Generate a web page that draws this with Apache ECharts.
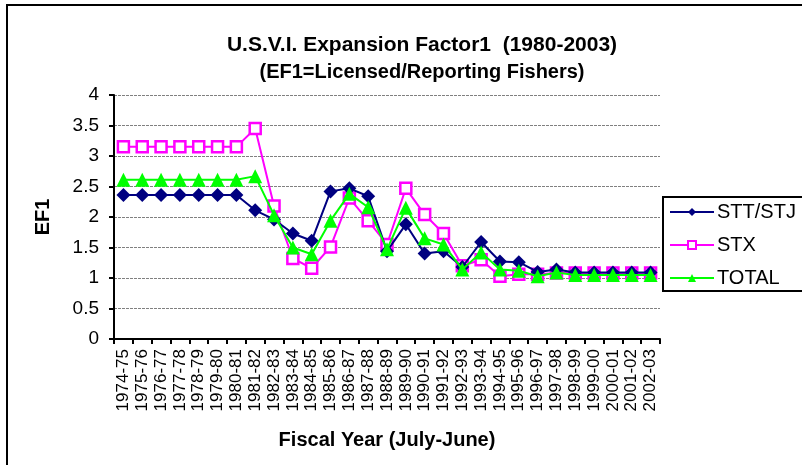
<!DOCTYPE html>
<html><head><meta charset="utf-8">
<script src="https://cdn.jsdelivr.net/npm/echarts@6/dist/echarts.min.js"></script>
<style>html,body{margin:0;padding:0;background:#fff}#c{width:802px;height:465px}</style>
</head><body><div id="c"></div>
<script>
var categories = ['1974-75','1975-76','1976-77','1977-78','1978-79','1979-80','1980-81','1981-82','1982-83','1983-84','1984-85','1985-86','1986-87','1987-88','1988-89','1989-90','1990-91','1991-92','1992-93','1993-94','1994-95','1995-96','1996-97','1997-98','1998-99','1999-00','2000-01','2001-02','2002-03'];
var sttStj = [2.36,2.36,2.36,2.36,2.36,2.36,2.36,2.11,1.96,1.73,1.61,2.42,2.47,2.34,1.44,1.88,1.40,1.44,1.18,1.59,1.27,1.26,1.10,1.14,1.09,1.09,1.09,1.09,1.09];
var stx = [3.15,3.15,3.15,3.15,3.15,3.15,3.15,3.45,2.18,1.32,1.16,1.51,2.31,1.94,1.55,2.47,2.04,1.73,1.20,1.30,1.03,1.06,1.06,1.08,1.08,1.08,1.08,1.08,1.08];
var total = [2.61,2.61,2.61,2.61,2.61,2.61,2.61,2.67,2.03,1.50,1.39,1.94,2.38,2.16,1.47,2.15,1.65,1.55,1.14,1.42,1.14,1.12,1.03,1.09,1.05,1.05,1.05,1.05,1.05];

var F = 'Liberation Sans, Arial, sans-serif';
var chart = echarts.init(document.getElementById('c'), null, {renderer:'canvas'});
chart.setOption({
  animation:false,
  backgroundColor:'#fff',
  graphic:[{type:'rect', shape:{x:7,y:5,width:820,height:480}, style:{fill:'none', stroke:'#000', lineWidth:2}, silent:true, z:-1}],
  title:{
    text:'U.S.V.I. Expansion Factor1  (1980-2003)',
    subtext:'(EF1=Licensed/Reporting Fishers)',
    left:417, top:30, textAlign:'center', itemGap:6,
    textStyle:{fontFamily:F, fontSize:21, fontWeight:'bold', color:'#000'},
    subtextStyle:{fontFamily:F, fontSize:20, fontWeight:'bold', color:'#000'}
  },
  legend:{
    orient:'vertical', left:663, top:197,
    borderColor:'#000', borderWidth:2, padding:[5,20,3,6],
    itemWidth:44, itemHeight:10, itemGap:13,
    textStyle:{fontFamily:F, fontSize:20, color:'#000', padding:[0,0,0,-2]},
    data:['STT/STJ','STX','TOTAL']
  },
  grid:{left:114, right:142, top:95, bottom:126},
  xAxis:{
    type:'category', data:categories, boundaryGap:true,
    name:'Fiscal Year (July-June)', nameLocation:'middle', nameGap:91,
    nameTextStyle:{fontFamily:F, fontSize:20, fontWeight:'bold', color:'#000'},
    axisLine:{lineStyle:{color:'#000', width:2}},
    axisTick:{show:true, alignWithLabel:false, interval:0, length:5, lineStyle:{color:'#000', width:2}},
    axisLabel:{rotate:90, interval:0, fontFamily:F, fontSize:17, color:'#000', margin:10}
  },
  yAxis:{
    type:'value', min:0, max:4, interval:0.5,
    name:'EF1', nameLocation:'middle', nameGap:61,
    nameTextStyle:{fontFamily:F, fontSize:20, fontWeight:'bold', color:'#000'},
    axisLine:{show:true, lineStyle:{color:'#000', width:2}},
    axisTick:{show:true, length:5, lineStyle:{color:'#000', width:2}},
    axisLabel:{fontFamily:F, fontSize:19, color:'#000', margin:15},
    splitLine:{lineStyle:{color:'#808080', type:[3,1], width:1}}
  },
  series:[
    {name:'STT/STJ', type:'line', data:sttStj, symbol:'diamond', symbolSize:[14,14],
     lineStyle:{color:'#000080', width:2}, itemStyle:{color:'#000080'}, z:3},
    {name:'STX', type:'line', data:stx, symbol:'rect', symbolSize:11,
     lineStyle:{color:'#FF00FF', width:2}, itemStyle:{color:'#fff', borderColor:'#FF00FF', borderWidth:2.5}, z:2},
    {name:'TOTAL', type:'line', data:total, symbol:'triangle', symbolSize:14,
     lineStyle:{color:'#00FF00', width:2}, itemStyle:{color:'#00FF00'}, z:4}
  ]
});
</script></body></html>
